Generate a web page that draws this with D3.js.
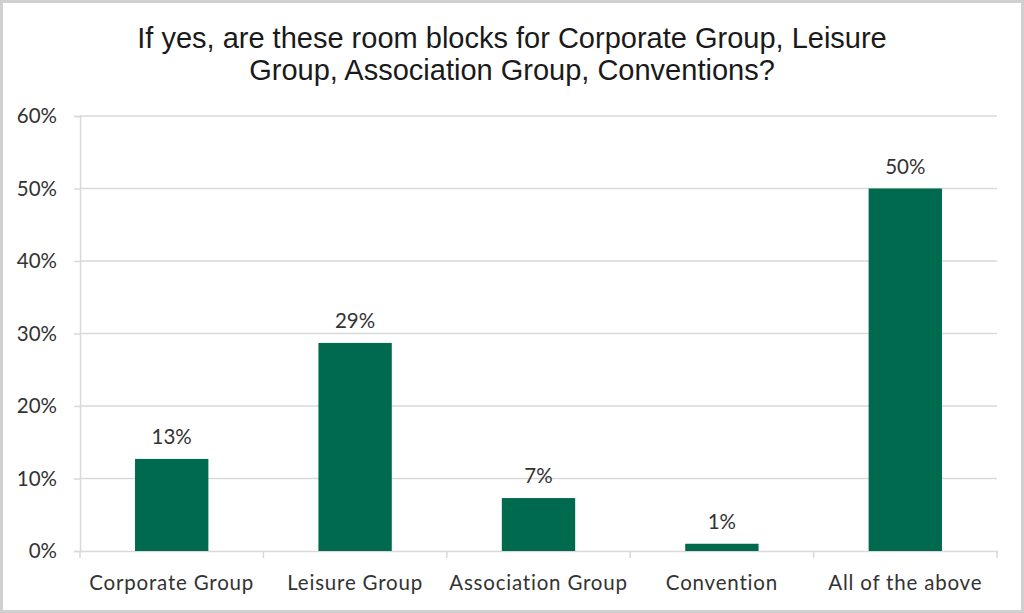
<!DOCTYPE html>
<html><head><meta charset="utf-8">
<script src="https://cdn.jsdelivr.net/npm/d3@7/dist/d3.min.js"></script>
<style>body{margin:0;background:#fff}svg{display:block}</style>
</head><body>
<script>
const categories = ["Corporate Group","Leisure Group","Association Group","Convention","All of the above"];
const values = [12.7, 28.7, 7.3, 1.0, 50.0];
const valueLabels = ["13%","29%","7%","1%","50%"];
const yTicks = [0,10,20,30,40,50,60];
const titleLines = ["If yes, are these room blocks for Corporate Group, Leisure","Group, Association Group, Conventions?"];

const W=1024,H=613;
const svg=d3.select("body").append("svg").attr("width",W).attr("height",H);
svg.append("rect").attr("x",1.5).attr("y",1.5).attr("width",W-3).attr("height",H-3).attr("fill","#fff").attr("stroke","#d0d0d0").attr("stroke-width",3);

const pL=80,pR=997,pT=116,pB=551;
const x=d3.scaleBand().domain(categories).range([pL,pR]).paddingInner(0.6).paddingOuter(0.3);
const y=d3.scaleLinear().domain([0,60]).range([pB,pT]);
const font="Lato, 'Open Sans', sans-serif";
const fs=20.5;

// gridlines
svg.append("g").selectAll("line").data(yTicks.filter(d=>d>0)).join("line")
 .attr("x1",pL).attr("x2",pR).attr("y1",d=>y(d)).attr("y2",d=>y(d))
 .attr("stroke","#d9d9d9").attr("stroke-width",1.5);

// y axis
const ya=svg.append("g").attr("transform",`translate(${pL},0)`)
 .call(d3.axisLeft(y).tickValues(yTicks).tickFormat(d=>d+"%").tickSize(6).tickPadding(17));
ya.select(".domain").attr("stroke","#d9d9d9").attr("stroke-width",1.5);
ya.selectAll(".tick line").attr("stroke","#d9d9d9").attr("stroke-width",1.5);
ya.selectAll("text").attr("font-family",font).attr("font-size",fs).attr("fill","#333");

// x axis
const xa=svg.append("g").attr("transform",`translate(0,${pB})`)
 .call(d3.axisBottom(x).tickSize(0).tickPadding(24));
xa.select(".domain").attr("stroke","#d9d9d9").attr("stroke-width",1.5);
xa.selectAll("text").attr("font-family",font).attr("font-size",fs).attr("fill","#333").attr("letter-spacing","0.8px");
// category boundary ticks
const bounds=d3.range(categories.length+1).map(i=>pL+i*(pR-pL)/categories.length);
svg.append("g").selectAll("line").data(bounds).join("line")
 .attr("x1",d=>d).attr("x2",d=>d).attr("y1",pB).attr("y2",pB+7)
 .attr("stroke","#d9d9d9").attr("stroke-width",1.5);

// bars
svg.append("g").selectAll("rect").data(values).join("rect")
 .attr("x",(d,i)=>x(categories[i])).attr("width",x.bandwidth())
 .attr("y",d=>y(d)).attr("height",d=>y(0)-y(d)).attr("fill","#006a4e");

// value labels
svg.append("g").selectAll("text").data(values).join("text")
 .attr("x",(d,i)=>x(categories[i])+x.bandwidth()/2).attr("y",d=>y(d)-15)
 .attr("text-anchor","middle").attr("font-family",font).attr("font-size",fs).attr("fill","#333")
 .text((d,i)=>valueLabels[i]);

// title
svg.append("g").selectAll("text").data(titleLines).join("text")
 .attr("x",512).attr("y",(d,i)=>48+i*32).attr("text-anchor","middle")
 .attr("font-family","'Liberation Sans', Arial, sans-serif").attr("font-size",29).attr("fill","#1a1a1a")
 .text(d=>d);
</script>
</body></html>
